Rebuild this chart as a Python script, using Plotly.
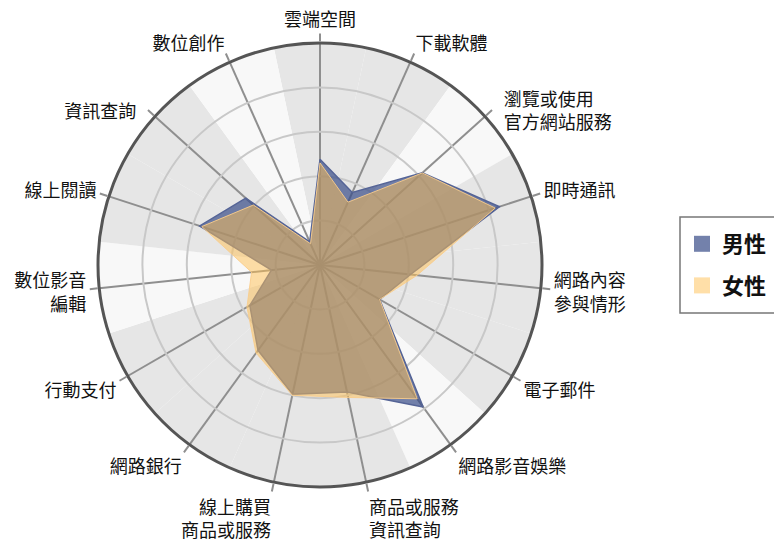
import plotly.graph_objects as go

categories = ["雲端空間", "下載軟體", "瀏覽或使用官方網站服務", "即時通訊", "網路內容參與情形",
              "電子郵件", "網路影音娛樂", "商品或服務資訊查詢", "線上購買商品或服務", "網路銀行",
              "行動支付", "數位影音編輯", "線上閱讀", "資訊查詢", "數位創作"]
tick_labels = ["雲端空間", "下載軟體",
               "\u3000<br>\u3000<br>\u3000<br>\u3000<br>\u2002瀏覽或使用<br>\u2002官方網站服務",
               "即時通訊", "網路內容<br>參與情形",
               "電子郵件", "網路影音娛樂", "商品或服務<br>資訊查詢", "線上購買<br>商品或服務", "網路銀行",
               "行動支付", "數位影音<br>編輯", "線上閱讀", "\u3000<br>\u3000<br>資訊查詢\u2002", "數位創作"]
male = [47.6, 35.8, 62, 85, 41, 31, 79, 58.5, 59.5, 47.5, 36.5, 22, 57, 45, 11.4]
female = [46, 31, 62, 83, 44, 31, 74.5, 61, 60, 49, 38, 31, 56, 40.4, 10.5]
series_names = ["男性", "女性"]
bg_shades = ["#e6e6e6", "#e6e6e6", "#f8f8f8", "#e6e6e6", "#e6e6e6", "#e6e6e6", "#f8f8f8", "#e6e6e6",
             "#e6e6e6", "#e6e6e6", "#e6e6e6", "#f8f8f8", "#e6e6e6", "#e6e6e6", "#f8f8f8"]
r_max = 100

W, H = 774, 541
blue_fill = "rgba(55,75,135,0.7)"
blue_line = "rgb(85,100,150)"
orange_fill = "rgba(255,192,82,0.5)"
orange_line = "rgba(250,205,140,0.9)"

fig = go.Figure()

# background sectors
fig.add_trace(go.Barpolar(r=[r_max] * len(categories), theta=categories, subplot="polar",
                          marker=dict(color=bg_shades, line=dict(width=0)),
                          showlegend=False, hoverinfo="skip"))

def closed(v):
    return list(v) + [v[0]]

fig.add_trace(go.Scatterpolar(r=closed(male), theta=closed(categories), subplot="polar2",
                              mode="lines", fill="toself", fillcolor=blue_fill,
                              line=dict(color=blue_line, width=1.5),
                              name=series_names[0], showlegend=False))
fig.add_trace(go.Scatterpolar(r=closed(female), theta=closed(categories), subplot="polar2",
                              mode="lines", fill="toself", fillcolor=orange_fill,
                              line=dict(color=orange_line, width=1),
                              name=series_names[1], showlegend=False))

# legend entries
for nm, col, grp in [(series_names[0], blue_fill, "a"), (series_names[1], orange_fill, "b")]:
    fig.add_trace(go.Scatterpolar(r=[None], theta=[categories[0]], subplot="polar2",
                                  mode="markers", marker=dict(symbol="square", size=18, color=col),
                                  name=nm, legendgroup=grp, showlegend=True))

dom_x = [98 / W, 542 / W]
dom_y = [1 - 487 / H, 1 - 43 / H]

angular_common = dict(type="category", categoryarray=categories, rotation=90, direction="clockwise")

fig.update_layout(
    width=W, height=H,
    margin=dict(l=0, r=0, t=0, b=0),
    paper_bgcolor="white",
    font=dict(family="Noto Sans CJK TC", size=18, color="#111111"),
    polar=dict(
        domain=dict(x=dom_x, y=dom_y),
        bgcolor="white",
        bargap=0,
        angularaxis=dict(**angular_common, showgrid=False, showticklabels=False,
                         showline=False, ticks=""),
        radialaxis=dict(range=[0, r_max], visible=False),
    ),
    polar2=dict(
        domain=dict(x=dom_x, y=dom_y),
        bgcolor="rgba(0,0,0,0)",
        angularaxis=dict(**angular_common, tickmode="array", tickvals=categories, ticktext=tick_labels,
                         showgrid=True, gridcolor="#8f8f8f", gridwidth=1.5,
                         showline=True, linecolor="#555555", linewidth=3,
                         ticks="outside", ticklen=8, tickcolor="#8f8f8f", tickwidth=1.5,
                         tickfont=dict(size=18, color="#111111")),
        radialaxis=dict(range=[0, r_max], dtick=20, showticklabels=False, showline=False,
                        ticks="", showgrid=True, gridcolor="#c8c8c8", gridwidth=1.5),
    ),
    legend=dict(x=682 / W, y=1 - 223 / H, xanchor="left", yanchor="top",
                borderwidth=0, bgcolor="rgba(0,0,0,0)",
                font=dict(size=22, color="#111111", family="Noto Sans CJK TC", weight="bold"),
                traceorder="grouped", tracegroupgap=10),
    shapes=[dict(type="rect", xref="paper", yref="paper",
                 x0=680 / W, x1=800 / W, y0=1 - 313 / H, y1=1 - 217 / H,
                 line=dict(color="#777777", width=1.5), fillcolor="rgba(0,0,0,0)", layer="below")],
    showlegend=True,
)

fig.write_html("out.html", config={"displayModeBar": False},
               post_script="document.body.style.margin='0';document.body.style.overflow='hidden';")
